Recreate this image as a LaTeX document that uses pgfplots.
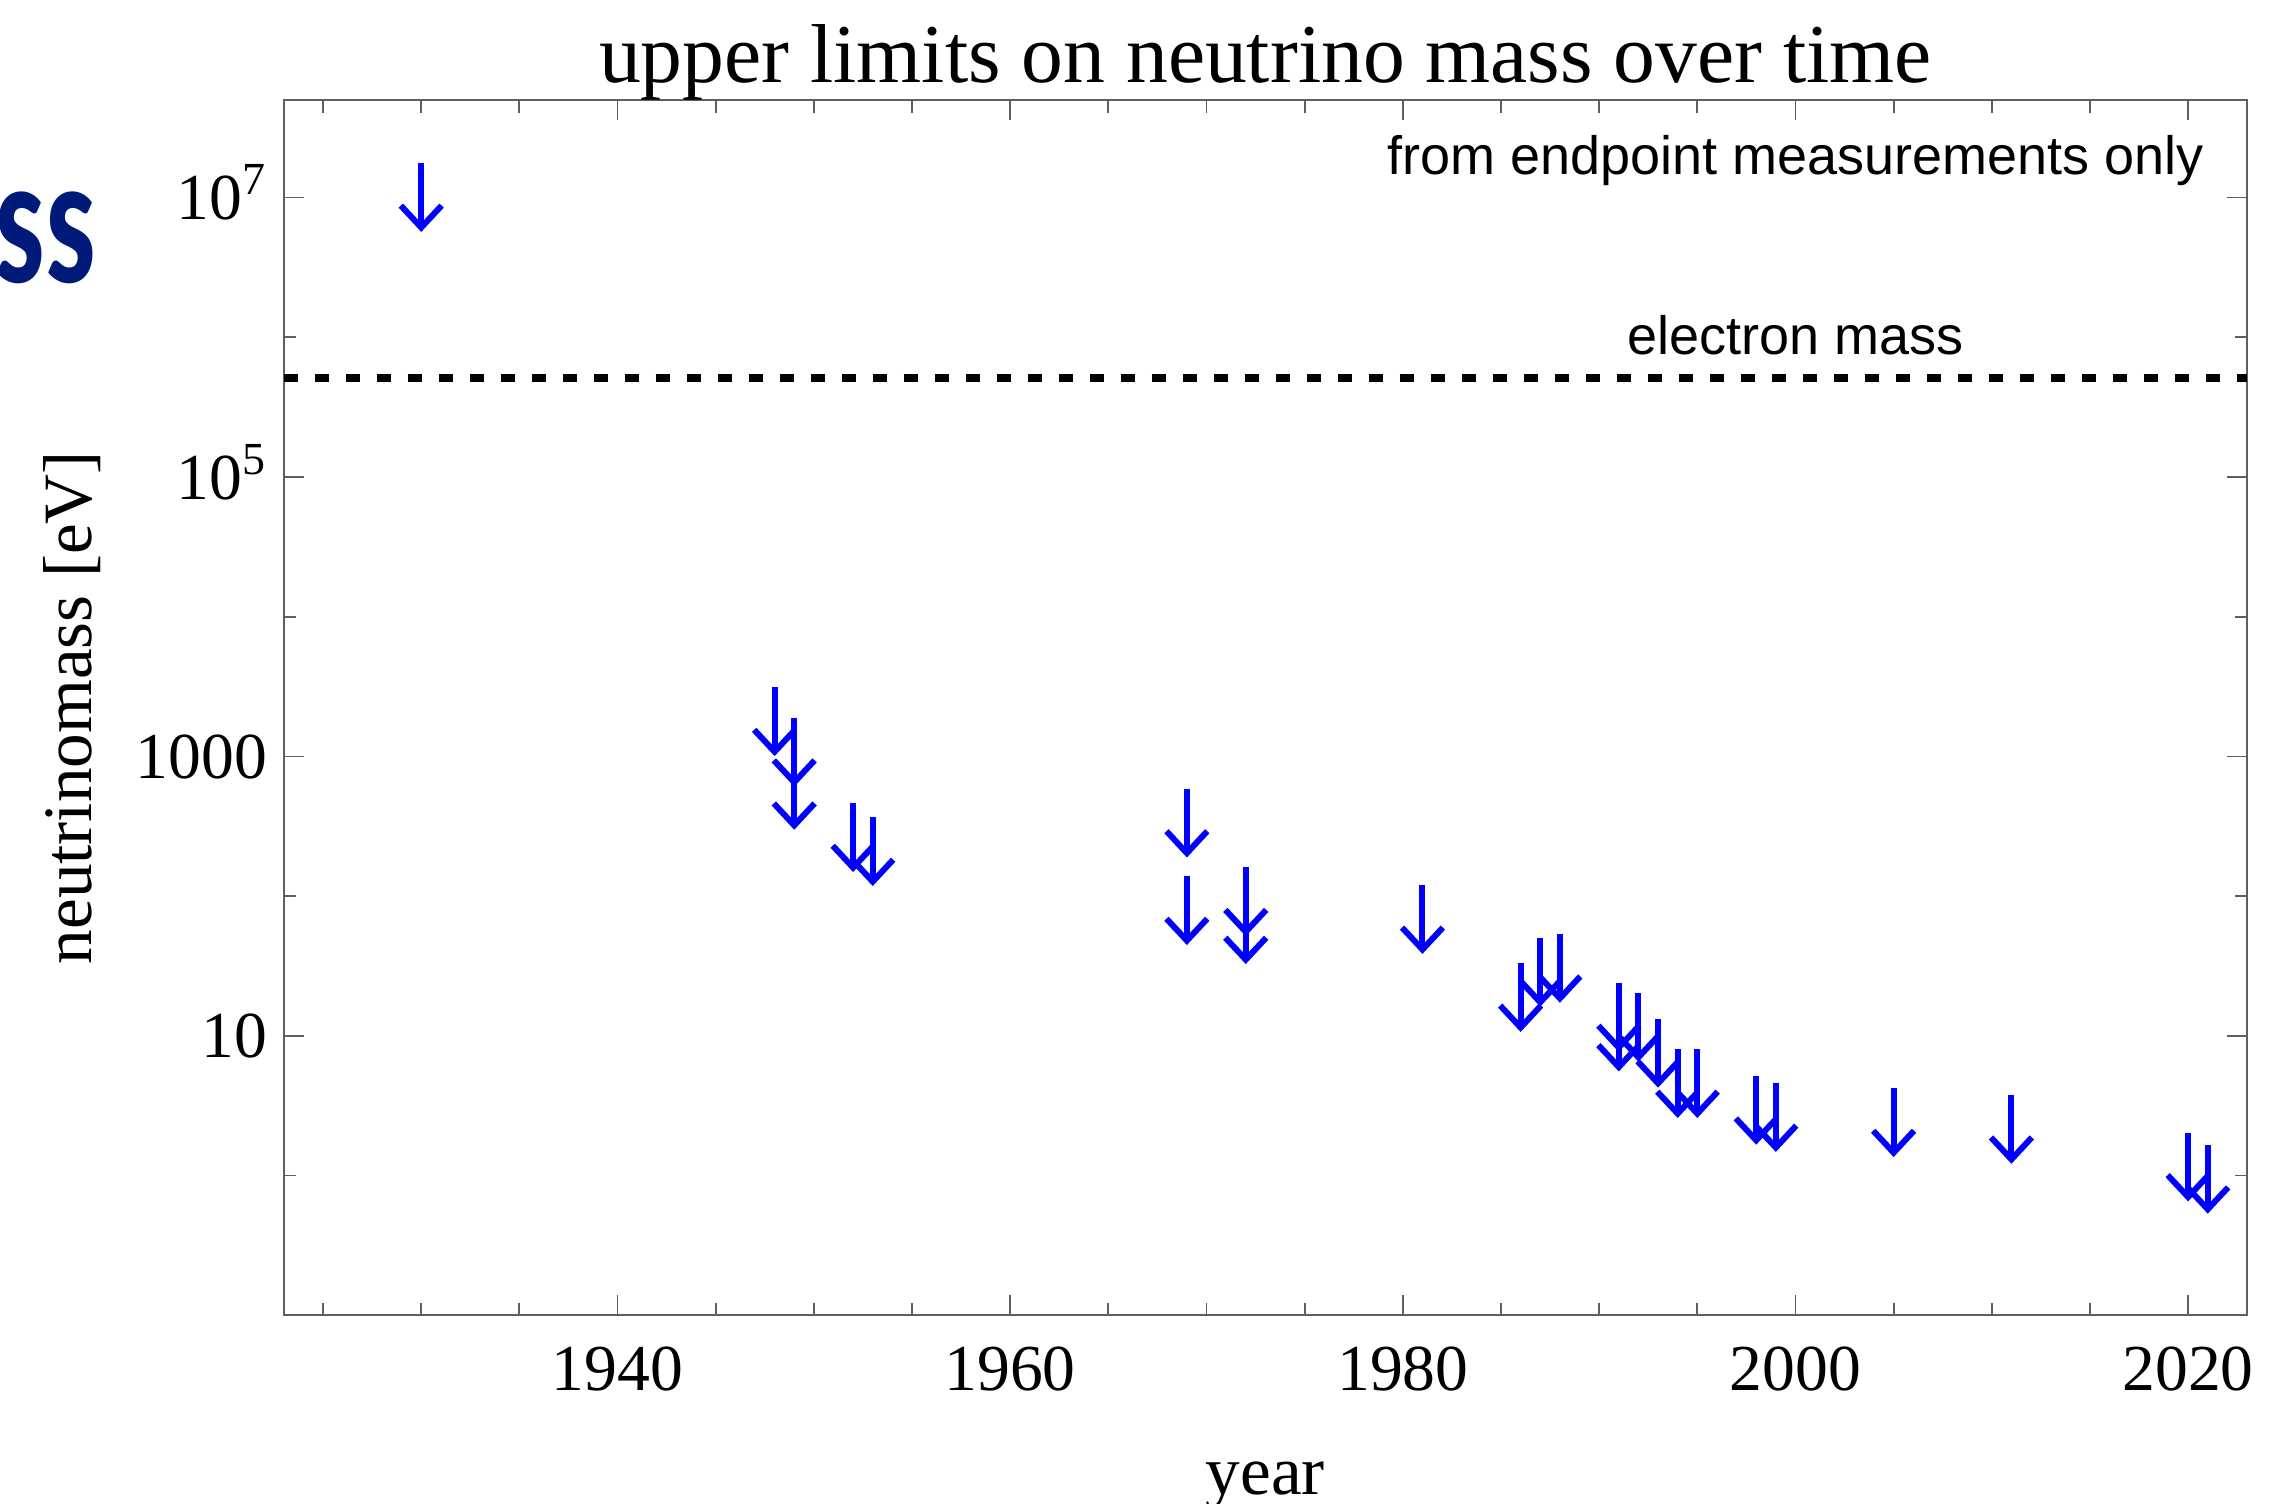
\documentclass[border=0pt]{standalone}
\usepackage{fontspec}
\setmainfont{Liberation Serif}
\newfontfamily\arialf{Liberation Sans}
\newfontfamily\carlito{Carlito}
\usepackage{graphicx}
\usepackage{pgfplots}
\pgfplotsset{compat=1.18}
\definecolor{slidenavy}{RGB}{0,26,122}
\definecolor{framegray}{RGB}{95,95,95}

\pgfdeclareplotmark{darrow}{%
  \pgfsetlinewidth{1.5bp}%
  \pgfsetbuttcap
  \pgfsetmiterjoin
  \pgfpathmoveto{\pgfqpoint{0bp}{8.625bp}}%
  \pgfpathlineto{\pgfqpoint{0bp}{-7.4bp}}%
  \pgfusepathqstroke
  \pgfpathmoveto{\pgfqpoint{-5.1bp}{-2.0bp}}%
  \pgfpathlineto{\pgfqpoint{0bp}{-7.48bp}}%
  \pgfpathlineto{\pgfqpoint{5.1bp}{-2.0bp}}%
  \pgfusepathqstroke
}

\begin{document}
\begin{tikzpicture}
\begin{axis}[
  scale only axis,
  width=490.8bp, height=303.75bp,
  at={(0,0)}, anchor=south west,
  xmin=1923, xmax=2023,
  ymode=log, ymin=0.1, ymax=4.97e7,
  xtick={1940,1960,1980,2000,2020},
  xticklabels={1940,1960,1980,2000,2020},
  minor xtick={1925,1930,...,2020},
  ytick={10,1000,100000,10000000},
  yticklabels={10,1000,10\textsuperscript{5},10\textsuperscript{7}},
  minor ytick={1,100,10000,1000000},
  tick align=inside,
  major tick length=5bp,
  minor tick length=3.1bp,
  axis line style={framegray, line width=0.45bp},
  every tick/.style={framegray, line width=0.45bp},
  xticklabel style={font=\fontsize{16.4bp}{19bp}\selectfont, anchor=base, inner sep=0pt, yshift=-18.7bp},
  yticklabel style={font=\fontsize{16.4bp}{19bp}\selectfont, anchor=base east, inner sep=0pt, xshift=-4bp, yshift=-5.5bp},
]
\addplot[black, line width=2bp, dash pattern=on 3.5bp off 4.25bp, line cap=butt]
  coordinates {(1923,511000) (2023,511000)};
\addplot[only marks, mark=darrow, color=blue] coordinates {
  (1930,1.0e7)
  (1948,1770)
  (1949,1070)
  (1949,526)
  (1952,262)
  (1953,208)
  (1969,333)
  (1969,78.7)
  (1972,91)
  (1972,57.5)
  (1981,68)
  (1986,18.8)
  (1987,28.5)
  (1988,30.4)
  (1991,13.5)
  (1991,9.8)
  (1992,11.5)
  (1993,7.5)
  (1994,4.55)
  (1995,4.55)
  (1998,2.93)
  (1999,2.6)
  (2005,2.39)
  (2011,2.14)
  (2020,1.15)
  (2021,0.94)
};
\end{axis}
\node[anchor=base, inner sep=0pt, font=\fontsize{20.9bp}{24bp}\selectfont] at (245.4bp,308.3bp) {upper limits on neutrino mass over time};
\node[anchor=base east, inner sep=0pt, font=\arialf\fontsize{13.5bp}{16bp}\selectfont] at (480.2bp,285.1bp) {from endpoint measurements only};
\node[anchor=base, inner sep=0pt, font=\arialf\fontsize{13.5bp}{16bp}\selectfont] at (377.9bp,240.1bp) {electron mass};
\node[rotate=90, anchor=base, inner sep=0pt, font=\fontsize{17.3bp}{20bp}\selectfont] at (-48.1bp,151.9bp) {neutrinomass [eV]};
\node[anchor=base, inner sep=0pt, font=\fontsize{17.3bp}{20bp}\selectfont] at (245.4bp,-44.9bp) {year};
\node[anchor=base east, inner sep=0pt, text=slidenavy] at (-46.7bp,258.1bp) {\scalebox{0.69}[1]{\carlito\bfseries\fontsize{46bp}{50bp}\selectfont Mass}};
\pgfresetboundingbox
\useasboundingbox (-70.95bp,-47.175bp) rectangle (496.55bp,328.825bp);
\end{tikzpicture}
\end{document}
